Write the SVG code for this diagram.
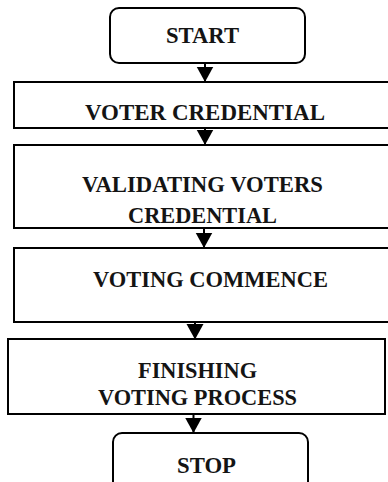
<svg xmlns="http://www.w3.org/2000/svg" width="388" height="482" viewBox="0 0 388 482">
<style>
  .box { fill: #ffffff; stroke: #000000; stroke-width: 2; }
  .lbl { font-family: "Liberation Serif", "Times New Roman", serif; font-weight: bold; font-size: 24px; fill: #141414; text-anchor: middle; }
  .conn { stroke: #000000; stroke-width: 2; fill: none; marker-end: url(#arrow); }
</style>
<defs>
  <marker id="arrow" markerUnits="userSpaceOnUse" markerWidth="16" markerHeight="18" viewBox="0 0 16 18" refX="15.5" refY="9" orient="auto">
    <path d="M0,0.5 L15.5,9 L0,17.5 Z" fill="#000000"/>
  </marker>
</defs>
<rect width="388" height="482" fill="#ffffff"/>
<g id="connectors">
  <line class="conn" x1="205" y1="63" x2="205" y2="82"/>
  <line class="conn" x1="205" y1="128" x2="205" y2="145"/>
  <line class="conn" x1="204" y1="228" x2="204" y2="248"/>
  <line class="conn" x1="195" y1="322" x2="195" y2="339.5"/>
  <line class="conn" x1="193.5" y1="414" x2="193.5" y2="433"/>
</g>
<g id="start">
  <rect class="box" x="110" y="8" width="195" height="55" rx="9"/>
  <text class="lbl" x="202.5" y="43" textLength="73" lengthAdjust="spacingAndGlyphs">START</text>
</g>
<g id="voter-credential">
  <rect class="box" x="14" y="82" width="390" height="46"/>
  <text class="lbl" x="205" y="120" textLength="240" lengthAdjust="spacingAndGlyphs">VOTER CREDENTIAL</text>
</g>
<g id="validating">
  <rect class="box" x="14" y="145" width="390" height="83"/>
  <text class="lbl" x="202.5" y="192" textLength="241" lengthAdjust="spacingAndGlyphs">VALIDATING VOTERS</text>
  <text class="lbl" x="202.5" y="223" textLength="149" lengthAdjust="spacingAndGlyphs">CREDENTIAL</text>
</g>
<g id="voting-commence">
  <rect class="box" x="14" y="248" width="390" height="74"/>
  <text class="lbl" x="210.5" y="287" textLength="235" lengthAdjust="spacingAndGlyphs">VOTING COMMENCE</text>
</g>
<g id="finishing">
  <rect class="box" x="8" y="339" width="377" height="75"/>
  <text class="lbl" x="197.5" y="378" textLength="119" lengthAdjust="spacingAndGlyphs">FINISHING</text>
  <text class="lbl" x="197.5" y="405" textLength="199" lengthAdjust="spacingAndGlyphs">VOTING PROCESS</text>
</g>
<g id="stop">
  <rect class="box" x="113" y="433" width="195" height="60" rx="9"/>
  <text class="lbl" x="206.5" y="473" textLength="59" lengthAdjust="spacingAndGlyphs">STOP</text>
</g>
</svg>
